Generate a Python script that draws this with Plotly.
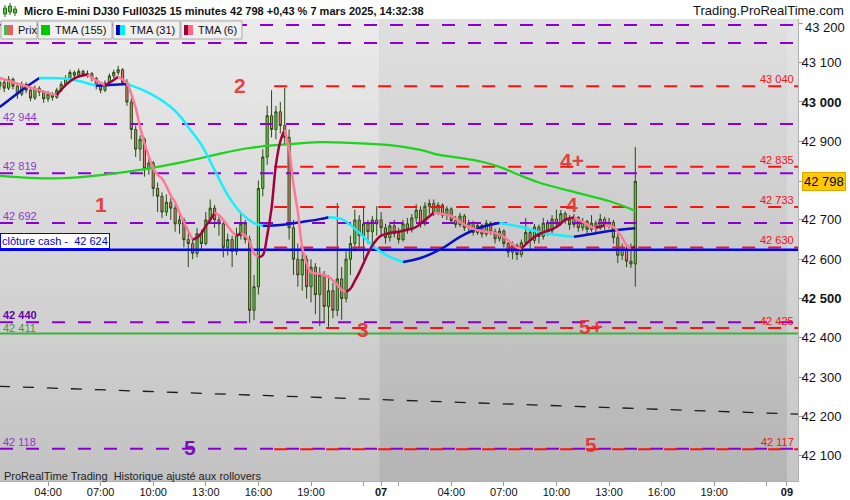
import plotly.graph_objects as go

# ---- data (prices in points, time in session hours since 6 March 00:00,
# with the 23:00-24:00 maintenance break removed so that 7 March 00:00 = 23.0)

day1_open = [43040, 43050, 43035, 43058, 43040, 43020, 43045, 43030, 43010, 43035,
             43025, 43008, 43020, 43012, 43030, 43045, 43060, 43075, 43068, 43078,
             43070, 43072, 43060, 43040, 43030, 43048, 43066, 43075, 43082, 43050,
             43000, 42930, 42880, 42905, 42830, 42845, 42780, 42760, 42720, 42745,
             42730, 42690, 42700, 42650, 42640, 42615, 42665, 42640, 42700, 42730,
             42700, 42690, 42630, 42650, 42620, 42660, 42690, 42650, 42470, 42530,
             42780, 42860, 42965, 42930, 42975, 42940, 42910, 42680, 42600, 42560,
             42600, 42530, 42580, 42510, 42560, 42480, 42520, 42470, 42550, 42500,
             42600, 42640, 42700, 42660, 42690, 42670, 42700]
day1_high = [43062, 43058, 43066, 43062, 43046, 43052, 43050, 43036, 43042, 43040,
             43030, 43028, 43025, 43036, 43052, 43068, 43082, 43080, 43085, 43082,
             43080, 43076, 43064, 43046, 43055, 43072, 43082, 43092, 43086, 43058,
             43010, 42940, 42915, 42910, 42860, 42850, 42795, 42770, 42765, 42755,
             42740, 42712, 42705, 42668, 42650, 42680, 42675, 42720, 42752, 42738,
             42712, 42698, 42665, 42660, 42680, 42718, 42700, 42660, 42560, 42800,
             42880, 42990, 43030, 42990, 43000, 43036, 42930, 42700, 42640, 42625,
             42610, 42600, 42590, 42580, 42570, 42560, 42540, 42743, 42580, 42620,
             42660, 42726, 42712, 42733, 42700, 42710, 42735]
day1_low = [43030, 43025, 43030, 43032, 43008, 43015, 43022, 43002, 43005, 43015,
            42998, 43000, 43003, 43008, 43025, 43040, 43055, 43060, 43062, 43064,
            43062, 43052, 43032, 43022, 43025, 43042, 43060, 43068, 43042, 42990,
            42905, 42860, 42850, 42810, 42815, 42760, 42720, 42705, 42710, 42700,
            42670, 42665, 42630, 42580, 42600, 42605, 42625, 42635, 42690, 42680,
            42660, 42605, 42610, 42580, 42610, 42650, 42640, 42438, 42445, 42510,
            42760, 42840, 42910, 42905, 42920, 42890, 42650, 42560, 42530, 42520,
            42500, 42490, 42460, 42430, 42440, 42428, 42450, 42455, 42446, 42490,
            42560, 42620, 42630, 42598, 42640, 42640, 42660]
day1_close = [43050, 43035, 43058, 43040, 43020, 43045, 43030, 43010, 43035, 43025,
              43008, 43020, 43012, 43030, 43045, 43060, 43075, 43068, 43078, 43070,
              43072, 43060, 43040, 43030, 43048, 43066, 43075, 43082, 43050, 43000,
              42930, 42880, 42905, 42830, 42845, 42780, 42760, 42720, 42745, 42730,
              42690, 42700, 42650, 42640, 42615, 42665, 42640, 42700, 42730, 42700,
              42690, 42630, 42650, 42620, 42660, 42690, 42650, 42470, 42530, 42780,
              42860, 42965, 42930, 42975, 42940, 42910, 42680, 42600, 42560, 42600,
              42530, 42580, 42510, 42560, 42480, 42520, 42470, 42550, 42500, 42600,
              42640, 42700, 42660, 42690, 42670, 42700, 42690]

day2_open = [42700, 42680, 42655, 42685, 42665, 42650, 42690, 42675, 42705, 42725,
             42690, 42735, 42742, 42718, 42738, 42712, 42728, 42698, 42688, 42710,
             42680, 42692, 42668, 42686, 42664, 42692, 42670, 42652, 42672, 42640,
             42618, 42635, 42612, 42642, 42668, 42648, 42682, 42658, 42692, 42672,
             42702, 42690, 42716, 42700, 42688, 42706, 42680, 42696, 42676, 42692,
             42680, 42702, 42686, 42694, 42655, 42610, 42625, 42595, 42588]
day2_high = [42720, 42690, 42695, 42700, 42680, 42700, 42705, 42715, 42740, 42735,
             42745, 42752, 42752, 42745, 42742, 42735, 42732, 42710, 42718, 42715,
             42700, 42698, 42695, 42690, 42700, 42696, 42678, 42680, 42676, 42650,
             42645, 42640, 42650, 42705, 42675, 42690, 42688, 42705, 42700, 42712,
             42726, 42725, 42722, 42712, 42715, 42710, 42705, 42700, 42712, 42698,
             42715, 42708, 42705, 42700, 42665, 42640, 42632, 42640, 42885]
day2_low = [42660, 42640, 42645, 42655, 42640, 42645, 42665, 42668, 42695, 42680,
            42685, 42715, 42710, 42712, 42705, 42700, 42690, 42680, 42682, 42672,
            42670, 42660, 42662, 42655, 42658, 42662, 42640, 42645, 42630, 42605,
            42600, 42598, 42605, 42636, 42625, 42640, 42640, 42650, 42660, 42665,
            42680, 42685, 42690, 42675, 42680, 42670, 42672, 42665, 42670, 42668,
            42675, 42675, 42678, 42640, 42590, 42598, 42580, 42578, 42530]
day2_close = [42680, 42655, 42685, 42665, 42650, 42690, 42675, 42705, 42725, 42690,
              42735, 42742, 42718, 42738, 42712, 42728, 42698, 42688, 42710, 42680,
              42692, 42668, 42686, 42664, 42692, 42670, 42652, 42672, 42640, 42618,
              42635, 42612, 42642, 42668, 42648, 42682, 42658, 42692, 42672, 42702,
              42690, 42716, 42700, 42688, 42706, 42680, 42696, 42676, 42692, 42680,
              42702, 42686, 42694, 42655, 42610, 42625, 42595, 42588, 42798]

tma155_hours = [1.25, 3.0, 4.75, 7.0, 8.75, 10.5, 12.0, 13.75, 15.5, 17.25, 19.5, 21.25,
                23.5, 25.25, 26.25, 27.5, 28.75, 29.75, 31.0, 32.0, 34.25, 36.0, 37.5]
tma155_values = [42812, 42807, 42806, 42814, 42824, 42837, 42850, 42868, 42883, 42891,
                 42898, 42896, 42890, 42878, 42866, 42858, 42848, 42835, 42812, 42795,
                 42768, 42748, 42723]

tma31_hours = [1.25, 2.5, 3.5, 5.25, 6.75, 8.5, 9.75, 11.0, 11.75, 12.0,
               12.75, 13.5, 14.25, 15.0, 15.75, 16.25, 17.25, 18.5, 19.5, 20.0,
               20.75, 21.25, 22.0, 22.75, 23.5, 24.25, 25.25, 26.5, 27.5, 28.75,
               29.75, 31.0, 32.0, 33.0, 34.0, 35.0, 36.0, 37.5]
tma31_values = [42987, 43030, 43061, 43058, 43041, 43046, 43023, 42987, 42952, 42936,
                42891, 42827, 42763, 42718, 42692, 42685, 42687, 42695, 42702, 42707,
                42702, 42687, 42657, 42626, 42606, 42593, 42603, 42628, 42657, 42682,
                42692, 42682, 42669, 42662, 42657, 42664, 42672, 42679]

tma6_hours = [1.25, 2.0, 2.75, 3.5, 4.25, 4.5, 5.0, 5.5, 6.0, 6.25,
              6.75, 7.25, 7.75, 8.0, 8.5, 8.75, 9.0, 9.25, 9.5, 9.75,
              10.0, 10.25, 10.5, 10.75, 11.0, 11.25, 11.5, 11.75, 12.0, 12.25,
              12.5, 12.75, 13.0, 13.25, 13.5, 13.75, 14.0, 14.5, 14.75, 15.0,
              15.25, 15.5, 15.75, 16.0, 16.25, 16.5, 16.75, 17.0, 17.25, 17.5,
              17.75, 18.0, 18.25, 18.5, 18.75, 19.0, 19.5, 20.0, 20.5, 20.75,
              21.0, 21.25, 21.5, 21.75, 22.0, 22.25, 22.5, 22.75, 23.0, 23.5,
              24.0, 24.5, 25.0, 25.5, 26.0, 26.5, 27.0, 27.5, 28.0, 28.5,
              29.0, 29.5, 30.0, 30.5, 30.75, 31.0, 31.5, 32.0, 32.5, 33.0,
              33.5, 33.75, 34.0, 34.5, 35.0, 35.25, 35.5, 35.75, 36.25, 36.5,
              36.75, 37.0, 37.25, 37.5]
tma6_values = [43061, 43050, 43040, 43030, 43020, 43018, 43043, 43060, 43068, 43069,
               43055, 43043, 43056, 43064, 43048, 43020, 42985, 42936, 42895, 42862,
               42830, 42815, 42805, 42786, 42762, 42745, 42718, 42695, 42672, 42650,
               42655, 42666, 42685, 42700, 42718, 42712, 42700, 42670, 42660, 42666,
               42660, 42645, 42615, 42605, 42610, 42660, 42730, 42840, 42900, 42929,
               42880, 42790, 42720, 42630, 42590, 42567, 42563, 42555, 42535, 42522,
               42517, 42525, 42545, 42566, 42590, 42615, 42635, 42650, 42660, 42667,
               42670, 42675, 42682, 42700, 42718, 42715, 42710, 42695, 42682, 42674,
               42670, 42667, 42657, 42638, 42630, 42627, 42648, 42664, 42672, 42682,
               42700, 42704, 42706, 42695, 42682, 42680, 42683, 42686, 42682, 42670,
               42655, 42636, 42628, 42632]

purple_levels = [43196, 43150, 42944, 42819, 42692, 42440, 42118]
purple_labels = ["", "", "42 944", "42 819", "42 692", "<b>42 440</b>", "42 118"]
red_levels = [43040, 42835, 42733, 42630, 42425, 42117]
red_labels = ["43 040", "42 835", "42 733", "42 630", "42 425", "42 117"]
red_start_hour = 16.9
cash_close = 42624
green_level = 42411
trend_hours = [1.2, 46.8]
trend_values = [42277, 42206]
last_price = 42798

session_bounds = [1.0, 22.9, 46.15, 46.8]

tick_hours = [4, 7, 10, 13, 16, 19, 22, 23, 24, 27, 30, 33, 36, 39, 42, 45, 46.15]
tick_text = ["04:00", "07:00", "10:00", "13:00", "16:00", "19:00", "", "<b>07</b>", "",
             "04:00", "07:00", "10:00", "13:00", "16:00", "19:00", "", "<b>09</b>"]
price_ticks = [42100, 42200, 42300, 42400, 42500, 42600, 42700, 42798, 42900, 43000, 43100, 43200]
price_tick_text = ["42 100", "42 200", "42 300", "42 400", "<b>42 500</b>", "42 600",
                   "42 700", "", "42 900", "<b>43 000</b>", "43 100", ""]
top_price_label = "43 200"

# ---- figure
X_RANGE = [1.26, 46.78]
Y_RANGE = [42036, 43211]
FONT = "Liberation Sans, Arial, sans-serif"
PURPLE = "#8a00d2"
RED = "#ff1010"


def px(x):
    return x / 798


def py(y):
    return (481 - y) / 462


candle_hours = [1.25 + 0.25 * i for i in range(len(day1_close))]
candle_hours += [23.0 + 0.25 * j for j in range(len(day2_close))]

fig = go.Figure()

# session background shading (vertical gradients) on the base axes,
# everything else goes on an overlaying pair of axes so it is drawn above
bg_tops = ["#ebebeb", "#e0e0e0", "#e4e4e4"]
bg_bottoms = ["#c2c2c2", "#b4b4b4", "#c6c6c6"]
for k in range(3):
    x0, x1 = session_bounds[k], session_bounds[k + 1]
    fig.add_trace(
        go.Scatter(
            x=[x0, x1, x1, x0, x0],
            y=[Y_RANGE[0], Y_RANGE[0], Y_RANGE[1], Y_RANGE[1], Y_RANGE[0]],
            mode="lines",
            line=dict(width=0),
            fill="toself",
            fillgradient=dict(
                type="vertical",
                colorscale=[[0, bg_bottoms[k]], [1, bg_tops[k]]],
            ),
            hoverinfo="skip",
            showlegend=False,
        )
    )

fig.add_trace(
    go.Candlestick(
        x=candle_hours,
        open=day1_open + day2_open,
        high=day1_high + day2_high,
        low=day1_low + day2_low,
        close=day1_close + day2_close,
        increasing=dict(line=dict(color="#2a4a14", width=1), fillcolor="#66d84a"),
        decreasing=dict(line=dict(color="#2a4a14", width=1), fillcolor="#e57c78"),
        whiskerwidth=0,
        showlegend=False,
        hoverinfo="skip",
        xaxis="x2",
        yaxis="y2",
    )
)


def add_line(xs, ys, color, width, dash="solid", shape="linear"):
    fig.add_trace(
        go.Scatter(
            x=xs, y=ys, mode="lines",
            line=dict(color=color, width=width, dash=dash, shape=shape),
            hoverinfo="skip", showlegend=False, xaxis="x2", yaxis="y2",
        )
    )


# support / resistance levels
for level in purple_levels:
    add_line(X_RANGE, [level, level], PURPLE, 2, "13px,13px")
for level in red_levels:
    add_line([red_start_hour, X_RANGE[1]], [level, level], RED, 2, "13px,13px")
add_line(trend_hours, trend_values, "#1a1a1a", 1.3, "11px,13px")
add_line(X_RANGE, [green_level, green_level], "#3cb43c", 2)
add_line(X_RANGE, [cash_close, cash_close], "#0000ff", 2.5)

# moving averages
add_line(tma155_hours, tma155_values, "#1ed21e", 2.2, shape="spline")


def add_two_tone(xs, ys, up_color, down_color, width):
    """Draw a line coloured by direction: one trace per rising / falling run."""
    a = 1
    for k in range(2, len(ys) + 1):
        if k == len(ys) or (ys[k] >= ys[k - 1]) != (ys[a] >= ys[a - 1]):
            rising = ys[a] >= ys[a - 1]
            add_line(xs[a - 1:k], ys[a - 1:k], up_color if rising else down_color,
                     width, shape="spline")
            a = k


add_two_tone(tma31_hours, tma31_values, "#0a10c8", "#12f0ff", 2.5)
add_two_tone(tma6_hours, tma6_values, "#a3003e", "#ff7898", 2.5)

annotations = []
# level labels
for level, label in zip(purple_levels, purple_labels):
    if label:
        annotations.append(dict(
            x=0, xref="paper", xanchor="left", xshift=1, y=level, yanchor="bottom",
            yshift=-1, text=label, showarrow=False,
            font=dict(family=FONT, size=11,
                      color="#6a00a8" if "<b>" in label else "#9038c8"),
        ))
for level, label in zip(red_levels, red_labels):
    annotations.append(dict(
        x=1, xref="paper", xanchor="right", xshift=-2, y=level, yanchor="bottom",
        yshift=-1, text=label, showarrow=False,
        font=dict(family=FONT, size=11, color=RED),
    ))
annotations.append(dict(
    x=0, xref="paper", xanchor="left", xshift=1, y=green_level, yanchor="bottom",
    yshift=-2, text="42 411", showarrow=False,
    font=dict(family=FONT, size=11, color="#3a9a3a"),
))
annotations.append(dict(
    x=0, xref="paper", xanchor="left", xshift=0, y=cash_close, yanchor="bottom",
    yshift=1, text="clôture cash -\u00a0 42 624", showarrow=False,
    font=dict(family=FONT, size=11, color="#0000cc"),
    bgcolor="white", bordercolor="#0000ff", borderwidth=1, borderpad=1,
))
annotations.append(dict(
    x=1, xref="paper", xanchor="left", xshift=4, y=last_price, yanchor="middle",
    text="42 798", showarrow=False,
    font=dict(family=FONT, size=13, color="black"),
    bgcolor="#ffc800", bordercolor="#d8a800", borderwidth=1, borderpad=1,
))
# the topmost price label sits a little lower than its tick, as in the original
annotations.append(dict(
    x=1, xref="paper", xanchor="left", xshift=5, y=py(28), yref="paper",
    yanchor="middle", text=top_price_label, showarrow=False,
    font=dict(family=FONT, size=13, color="#111"),
))

# wave counts
wave_marks = [
    ("1", 7.0, 42738, "red"), ("2", 14.95, 43041, "red"), ("3", 21.95, 42422, "red"),
    ("4+", 33.9, 42850, "red"), ("4", 33.9, 42740, "red"), ("5+", 35.0, 42428, "red"),
    ("5", 35.0, 42130, "red"), ("5", 12.1, 42120, "purple"),
]
for text, xh, yv, tone in wave_marks:
    annotations.append(dict(
        x=xh, y=yv, text=f"<b>{text}</b>", showarrow=False,
        font=dict(family=FONT, size=21,
                  color="rgba(232,44,44,0.9)" if tone == "red" else "#7a10c0"),
    ))

# header
annotations.append(dict(
    x=px(22), y=py(11), xref="paper", yref="paper", xanchor="left", yanchor="middle",
    text="<b>Micro E-mini DJ30 Full0325 15 minutes 42 798 +0,43 % 7 mars 2025, 14:32:38</b>",
    showarrow=False, font=dict(family=FONT, size=11, color="#111"),
))
annotations.append(dict(
    x=px(846), y=py(10), xref="paper", yref="paper", xanchor="right", yanchor="middle",
    text="Trading.ProRealTime.com", showarrow=False,
    font=dict(family=FONT, size=13, color="#111"),
))
annotations.append(dict(
    x=px(2), y=py(476), xref="paper", yref="paper", xanchor="left", yanchor="middle",
    text="ProRealTime Trading\u00a0 Historique ajusté aux rollovers", showarrow=False,
    font=dict(family=FONT, size=11, color="#222"),
))

shapes = []
# white header strip
shapes.append(dict(type="rect", xref="paper", yref="paper", x0=0, x1=px(850),
                   y0=py(19), y1=py(0), fillcolor="white", line=dict(width=0)))
# little candle icon in the header
for cx, top, bot, b0, b1 in [(5, 5, 17, 8, 14), (10, 3, 15, 6, 12), (15, 6, 16, 9, 13)]:
    shapes.append(dict(type="line", xref="paper", yref="paper", x0=px(cx), x1=px(cx),
                       y0=py(bot), y1=py(top), line=dict(color="#2a6a14", width=1)))
    shapes.append(dict(type="rect", xref="paper", yref="paper", x0=px(cx - 1.5),
                       x1=px(cx + 1.5), y0=py(b1), y1=py(b0), fillcolor="#58c83c",
                       line=dict(color="#2a6a14", width=1)))

# legend boxes
legend_items = [
    ("Prix", 1, 37, ["#4cb84c", "#e06262"]),
    ("TMA (155)", 38, 112, ["#00c800", "#00c800"]),
    ("TMA (31)", 113, 180, ["#0000c0", "#00f0ff"]),
    ("TMA (6)", 181, 242, ["#a00032", "#ff6a88"]),
]
for name, x0, x1, sw in legend_items:
    shapes.append(dict(type="rect", xref="paper", yref="paper", x0=px(x0), x1=px(x1),
                       y0=py(39), y1=py(21), fillcolor="#f0f0f0",
                       line=dict(color="#a8a8a8", width=1)))
    shapes.append(dict(type="rect", xref="paper", yref="paper", x0=px(x0 + 3),
                       x1=px(x0 + 7), y0=py(35), y1=py(25), fillcolor=sw[0],
                       line=dict(width=0)))
    shapes.append(dict(type="rect", xref="paper", yref="paper", x0=px(x0 + 7),
                       x1=px(x0 + 12), y0=py(35), y1=py(25), fillcolor=sw[1],
                       line=dict(width=0)))
    annotations.append(dict(
        x=px(x0 + 15), y=py(30), xref="paper", yref="paper", xanchor="left",
        yanchor="middle", text=name, showarrow=False,
        font=dict(family=FONT, size=11, color="#111"),
    ))

fig.update_layout(
    width=850,
    height=500,
    margin=dict(l=0, r=52, t=19, b=19),
    paper_bgcolor="white",
    plot_bgcolor="#d0d0d0",
    font=dict(family=FONT, size=12, color="#111"),
    showlegend=False,
    shapes=shapes,
    annotations=annotations,
    xaxis=dict(
        range=X_RANGE, showgrid=False, zeroline=False,
        tickmode="array", tickvals=tick_hours, ticktext=tick_text,
        ticks="outside", ticklen=4, tickcolor="#9a9a9a", ticklabelstandoff=-3,
        showline=True, linecolor="#b0b0b0", linewidth=1,
        tickfont=dict(family=FONT, size=11, color="#111"),
    ),
    yaxis=dict(
        range=Y_RANGE, side="right", showgrid=False, zeroline=False,
        tickmode="array", tickvals=price_ticks, ticktext=price_tick_text,
        ticks="outside", ticklen=4, tickcolor="#9a9a9a", ticklabelstandoff=-4,
        showline=True, linecolor="#b0b0b0", linewidth=1,
        tickfont=dict(family=FONT, size=13, color="#111"),
    ),
    xaxis2=dict(range=X_RANGE, overlaying="x", visible=False,
                rangeslider=dict(visible=False)),
    yaxis2=dict(range=Y_RANGE, overlaying="y", side="right", visible=False),
)

# the page is photographed from its top-left corner: drop the default body margin
fig.write_html(
    "out.html",
    config={"displayModeBar": False},
    post_script="document.body.style.margin = '0';",
)
